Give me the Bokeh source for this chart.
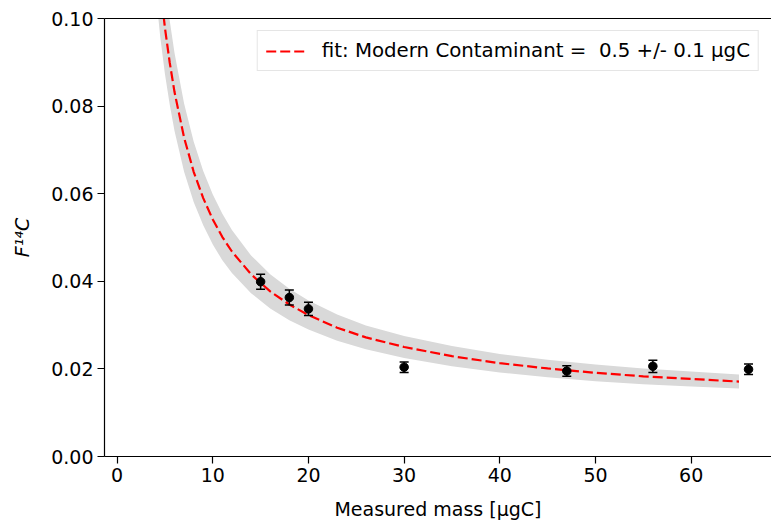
from bokeh.plotting import figure
from bokeh.models import Range1d, FixedTicker, NumeralTickFormatter, LinearAxis, Legend, LegendItem, ColumnDataSource
from bokeh.embed import file_html
from bokeh.resources import INLINE

# measured data
mass = [15, 18, 20, 30, 47, 56, 66]
f14c = [0.0399, 0.0363, 0.0337, 0.0204, 0.0195, 0.0206, 0.0199]
f14c_err = [0.0017, 0.0017, 0.0015, 0.0012, 0.0012, 0.0014, 0.0012]

# fit curve and its uncertainty band half-width
fit_x = [4, 4.5, 5, 5.5, 6, 7, 8, 9, 10, 11, 12, 14, 16, 18, 20, 23, 26, 30, 35, 40, 45, 50, 55, 60, 65]
fit_y = [0.1197, 0.1075, 0.0978, 0.0899, 0.0832, 0.0728, 0.0650, 0.0590, 0.0541, 0.0501, 0.0468,
         0.0416, 0.0377, 0.0347, 0.0323, 0.0294, 0.0272, 0.0250, 0.0229, 0.0213, 0.0201, 0.0191,
         0.0183, 0.0177, 0.0171]
band_half = [0.0129, 0.0116, 0.0105, 0.0096, 0.0089, 0.0078, 0.0069, 0.0062, 0.0057, 0.0053, 0.0049,
             0.0043, 0.0039, 0.0036, 0.0033, 0.0030, 0.0027, 0.0025, 0.0023, 0.0021, 0.0020, 0.0019,
             0.0018, 0.0017, 0.0016]

x_ticks = [0, 10, 20, 30, 40, 50, 60]
y_ticks = [0.0, 0.02, 0.04, 0.06, 0.08, 0.10]
legend_label = "fit: Modern Contaminant =  0.5 +/- 0.1 \u00b5gC"

FONT = "DejaVu Sans"
FS = "19px"

p = figure(width=771, height=522, output_backend="svg", toolbar_location=None,
           x_range=Range1d(-1.32, 68.4), y_range=Range1d(0.0, 0.10),
           min_border_left=104, min_border_right=0, min_border_top=18, min_border_bottom=65)
p.xgrid.visible = False
p.ygrid.visible = False
p.outline_line_color = None
p.background_fill_color = "white"
p.border_fill_color = "white"

band_src = ColumnDataSource(dict(x=fit_x,
                                 lo=[y - h for y, h in zip(fit_y, band_half)],
                                 hi=[y + h for y, h in zip(fit_y, band_half)]))
p.varea(x="x", y1="lo", y2="hi", source=band_src, fill_color="#d9d9d9", fill_alpha=1.0)

fit_r = p.line(fit_x, fit_y, line_color="#ff0000", line_width=2.2, line_dash="10 4")

lo = [y - e for y, e in zip(f14c, f14c_err)]
hi = [y + e for y, e in zip(f14c, f14c_err)]
p.segment(x0=mass, y0=lo, x1=mass, y1=hi, line_color="black", line_width=1.5)
p.scatter(mass, lo, marker="dash", size=9, line_color="black", line_width=1.5)
p.scatter(mass, hi, marker="dash", size=9, line_color="black", line_width=1.5)
p.scatter(mass, f14c, marker="circle", size=8.5, fill_color="black", line_color="black")

for ax in (p.xaxis[0], p.yaxis[0]):
    ax.major_label_text_font = FONT
    ax.major_label_text_font_size = FS
    ax.major_label_text_color = "black"
    ax.axis_label_text_font = FONT
    ax.axis_label_text_font_size = FS
    ax.axis_label_text_color = "black"
    ax.axis_label_text_font_style = "normal"
    ax.axis_line_color = "black"
    ax.axis_line_width = 1.2
    ax.major_tick_line_color = "black"
    ax.major_tick_line_width = 1.2
    ax.major_tick_out = 7
    ax.major_tick_in = 0
    ax.minor_tick_line_color = None
    ax.major_label_standoff = 4

p.xaxis.ticker = FixedTicker(ticks=x_ticks)
p.yaxis.ticker = FixedTicker(ticks=y_ticks)
p.yaxis.formatter = NumeralTickFormatter(format="0.00")
p.xaxis.axis_label = "Measured mass [\u00b5gC]"
p.yaxis.axis_label = "F\u00b9\u2074C"
p.yaxis.axis_label_text_font_style = "italic"
p.xaxis.axis_label_standoff = 13
p.yaxis.axis_label_standoff = 15

top_axis = LinearAxis(ticker=FixedTicker(ticks=[]), major_label_text_font_size="0px",
                      axis_line_color="black", axis_line_width=1.2,
                      major_tick_line_color=None, minor_tick_line_color=None)
p.add_layout(top_axis, "above")

legend = Legend(items=[LegendItem(label=legend_label, renderers=[fit_r])],
                location="top_right", margin=12, padding=8,
                label_standoff=16, glyph_width=40, glyph_height=20,
                label_text_font=FONT, label_text_font_size="19.8px", label_text_color="black",
                border_line_color="#cccccc", border_line_width=1,
                background_fill_color="white", background_fill_alpha=0.8)
p.add_layout(legend)

open("out.html", "w").write(file_html(p, INLINE))
